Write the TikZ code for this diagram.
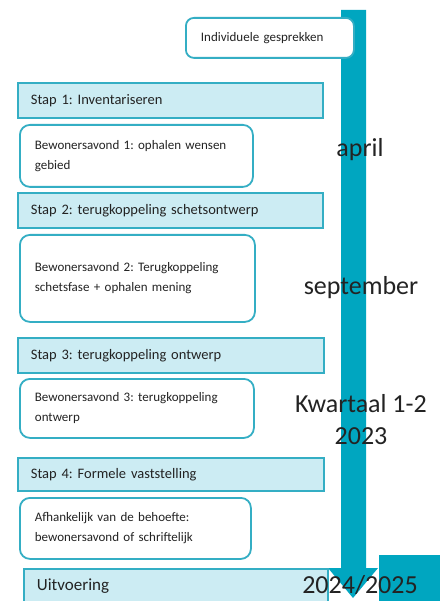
\documentclass[tikz,border=0pt]{standalone}
\usepackage{fontspec}
\setmainfont{Carlito}
\frenchspacing
\definecolor{teal1}{RGB}{0,166,192}
\definecolor{tealborder}{RGB}{52,174,196}
\definecolor{lightfill}{RGB}{204,236,243}
\definecolor{txt}{RGB}{35,35,35}
\begin{document}
\begin{tikzpicture}[x=1pt,y=-1pt,
  stapbox/.style={draw=tealborder, line width=1.8pt, fill=lightfill, anchor=north west,
    inner xsep=13pt, inner ysep=0pt, align=left, font=\frenchspacing\fontsize{14.5}{16}\selectfont, text=txt},
  roundbox/.style={draw=tealborder, line width=1.8pt, fill=white, rounded corners=10pt, anchor=north west,
    inner xsep=15pt, inner ysep=0pt, align=left, font=\frenchspacing\fontsize{13}{20}\selectfont, text=txt},
  timelabel/.style={font=\fontsize{26}{32}\selectfont, text=txt, align=center, inner sep=0pt}
]
\useasboundingbox (0,0) rectangle (440,601);
\fill[white] (0,0) rectangle (440,601);
% timeline bar with arrowhead
\fill[teal1] (341,10) -- (366,10) -- (366,568) -- (378,568) -- (353,598) -- (328,568) -- (341,568) -- cycle;
\fill[teal1] (379,555) rectangle (440,601);
% boxes
\node[roundbox, rounded corners=8pt, text width=138pt, minimum height=40pt] (ig) at (185,17) {Individuele gesprekken};
\node[stapbox, text width=279pt, minimum height=35pt] (s1) at (17,82) {Stap 1: Inventariseren};
\node[roundbox, text width=203pt, minimum height=62pt] (b1) at (19,124) {Bewonersavond 1: ophalen wensen\\gebied};
\node[stapbox, text width=279pt, minimum height=35pt] (s2) at (17,192) {Stap 2: terugkoppeling schetsontwerp};
\node[roundbox, text width=205pt, minimum height=87pt] (b2) at (19,234) {Bewonersavond 2: Terugkoppeling\\schetsfase + ophalen mening};
\node[stapbox, text width=280pt, minimum height=35pt] (s3) at (17,337) {Stap 3: terugkoppeling ontwerp};
\node[roundbox, text width=204pt, minimum height=59pt] (b3) at (19,378) {Bewonersavond 3: terugkoppeling\\ontwerp};
\node[stapbox, text width=280pt, minimum height=33pt] (s4) at (17,457) {Stap 4: Formele vaststelling};
\node[roundbox, text width=201pt, minimum height=61pt] (b4) at (19,497) {Afhankelijk van de behoefte:\\bewonersavond of schriftelijk};
\node[stapbox, text width=278pt, minimum height=34pt, font=\fontsize{17}{19}\selectfont] (uv) at (23,568) {Uitvoering};
% time labels
\node[timelabel] (apr) at (360,150) {april};
\node[timelabel] (sep) at (361,288) {september};
\node[timelabel] (kw) at (361,420) {Kwartaal 1-2\\2023};
\node[timelabel] (jr) at (360,585) {2024/2025};
\end{tikzpicture}
\end{document}
